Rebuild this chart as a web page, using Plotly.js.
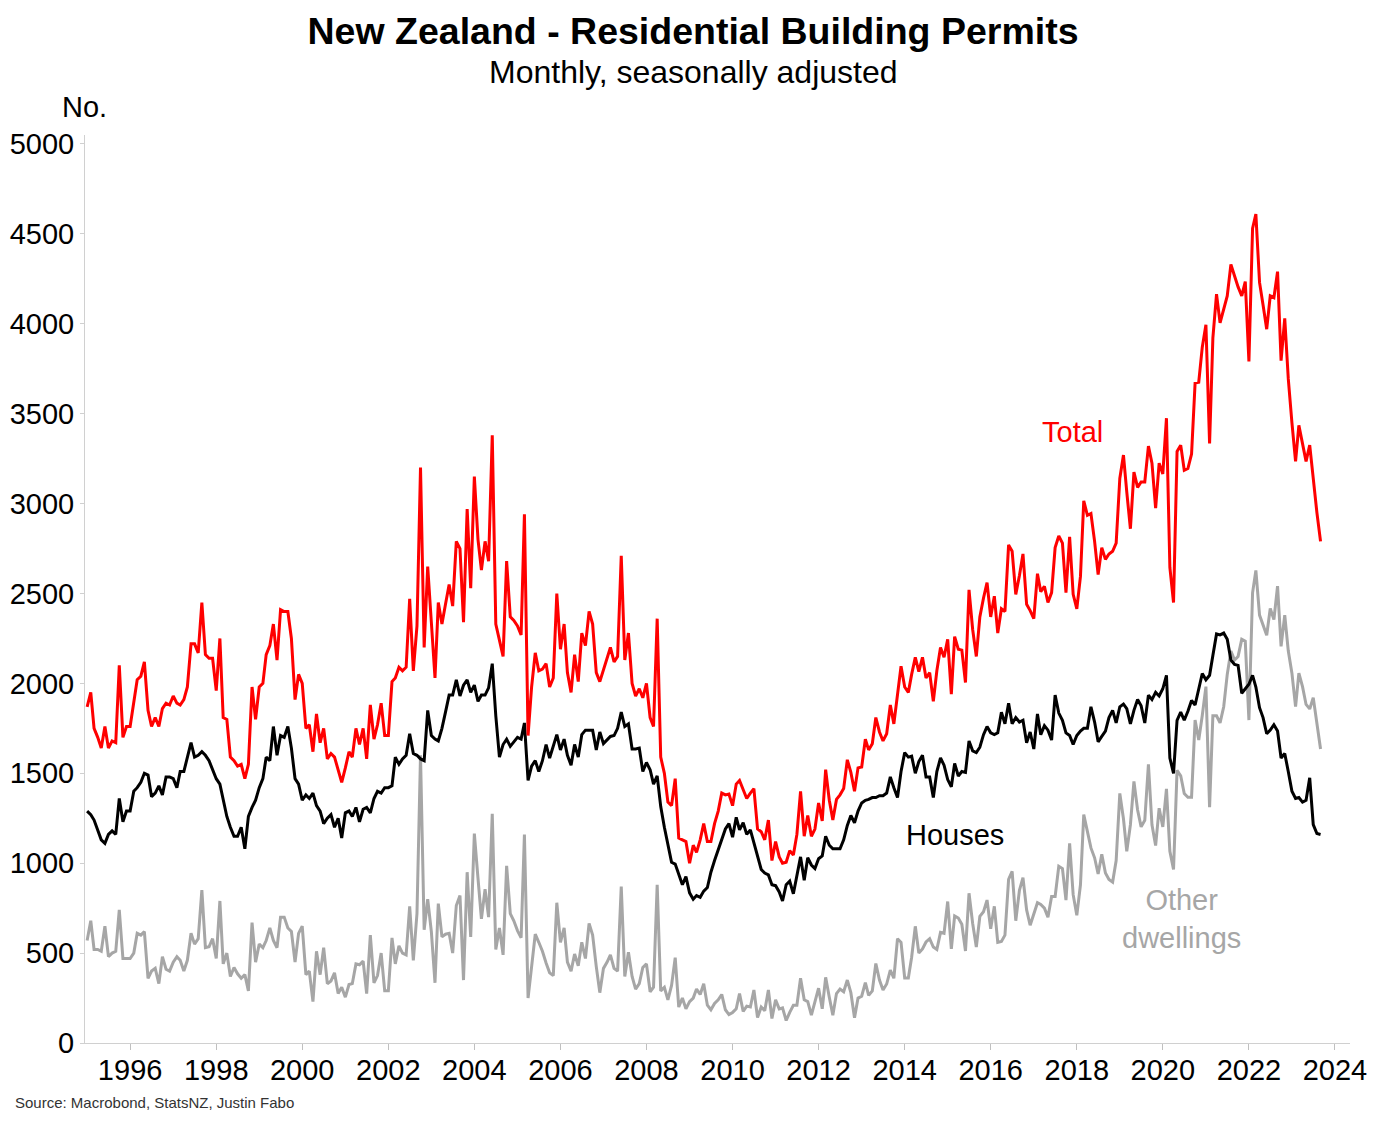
<!DOCTYPE html>
<html>
<head>
<meta charset="utf-8">
<script src="https://cdn.plot.ly/plotly-3.0.1.min.js"></script>
<style>html,body{margin:0;padding:0;background:#fff;}#chart{width:1386px;height:1122px;}</style>
</head>
<body>
<div id="chart"></div>
<script>
// Monthly data, Jan 1995 .. Sep 2023 (one line per year)
const startYear = 1995;
const total = [
1870,1950,1750,1700,1640,1760,1640,1680,1670,2100,1700,1760,
1760,1890,2020,2040,2120,1850,1760,1810,1760,1860,1890,1880,
1930,1890,1880,1910,1980,2220,2220,2170,2450,2160,2140,2140,
1960,2250,1810,1800,1590,1570,1540,1550,1470,1550,1980,1800,
1980,2000,2160,2210,2330,2130,2410,2400,2400,2250,1910,2050,
2000,1750,1770,1620,1830,1670,1750,1580,1610,1590,1520,1450,
1530,1620,1590,1750,1660,1750,1580,1880,1690,1770,1890,1710,
1710,2010,2030,2090,2070,2090,2470,2070,2320,3200,2200,2650,
2340,2030,2450,2330,2440,2550,2430,2790,2750,2340,2970,2530,
3150,2800,2630,2790,2680,3380,2330,2230,2150,2680,2370,2350,
2320,2270,2940,1710,1980,2170,2070,2080,2110,1980,2030,2500,
2190,2330,2060,1950,2160,2010,2280,2210,2400,2330,2060,2010,
2080,2140,2200,2120,2150,2710,2130,2280,2000,1930,1970,1920,
2000,1810,1760,2360,1590,1500,1340,1320,1470,1140,1130,1120,
1000,1100,1060,1130,1220,1120,1120,1220,1290,1390,1380,1385,
1320,1440,1460,1410,1360,1390,1415,1190,1175,1130,1240,1015,
1120,1035,1000,1005,1070,1045,1160,1400,1150,1265,1150,1190,
1335,1235,1520,1350,1240,1355,1380,1415,1575,1505,1400,1530,
1535,1690,1630,1665,1810,1730,1680,1720,1880,1775,1950,2095,
1980,1950,2050,2145,2065,2145,2030,2060,1900,2070,2200,2145,
2245,1940,2260,2190,2185,2005,2520,2300,2150,2370,2475,2560,
2370,2485,2280,2415,2400,2770,2735,2495,2600,2720,2440,2405,
2360,2610,2510,2540,2450,2505,2755,2820,2780,2505,2815,2495,
2415,2595,3015,2935,2945,2790,2605,2755,2690,2720,2735,2780,
3140,3270,3065,2860,3175,3090,3120,3120,3320,3225,2975,3225,
3165,3475,2645,2450,3290,3325,3185,3195,3275,3670,3675,3870,
3995,3335,3920,4165,4005,4080,4155,4330,4265,4205,4155,4235,
3790,4530,4610,4230,4105,3970,4155,4145,4290,3795,4030,3695,
3450,3235,3435,3335,3235,3325,3135,2950,2790
];
const houses = [
1290,1270,1240,1180,1130,1110,1160,1180,1160,1360,1230,1290,
1290,1400,1420,1450,1500,1490,1370,1390,1430,1380,1480,1480,
1470,1420,1510,1510,1590,1670,1590,1600,1620,1600,1570,1520,
1470,1440,1350,1260,1200,1150,1150,1200,1080,1260,1310,1350,
1420,1470,1590,1570,1760,1600,1710,1700,1760,1640,1470,1440,
1350,1380,1360,1390,1320,1290,1220,1250,1270,1200,1250,1140,
1280,1290,1260,1310,1230,1300,1310,1280,1360,1400,1390,1420,
1420,1430,1590,1550,1580,1600,1720,1610,1600,1580,1570,1850,
1710,1690,1680,1750,1840,1935,1935,2020,1930,1990,2020,1950,
1990,1900,1935,1935,1975,2110,1820,1590,1660,1690,1650,1675,
1700,1690,1780,1460,1540,1570,1510,1570,1660,1585,1655,1715,
1630,1690,1600,1545,1660,1590,1715,1740,1740,1740,1630,1730,
1665,1685,1705,1710,1750,1840,1760,1775,1635,1635,1640,1510,
1560,1520,1440,1485,1315,1200,1110,1005,995,935,880,925,
835,800,820,810,845,865,950,1015,1075,1130,1190,1220,
1145,1255,1185,1225,1160,1185,1110,1045,965,945,935,880,
875,840,790,880,900,830,940,1035,905,1030,990,970,
1025,1040,1150,1100,1080,1080,1080,1130,1210,1265,1225,1290,
1335,1350,1355,1365,1365,1375,1375,1390,1480,1420,1365,1510,
1615,1590,1595,1500,1565,1600,1480,1480,1365,1510,1585,1545,
1465,1425,1555,1485,1510,1505,1680,1625,1615,1645,1715,1760,
1725,1715,1725,1840,1775,1890,1775,1810,1785,1795,1670,1730,
1635,1830,1715,1765,1740,1685,1935,1835,1795,1725,1710,1660,
1710,1735,1750,1750,1870,1785,1675,1705,1735,1810,1850,1780,
1870,1885,1860,1775,1850,1910,1875,1780,1935,1910,1950,1930,
1970,2045,1585,1500,1795,1840,1795,1845,1905,1880,1970,2055,
2020,2045,2155,2275,2270,2280,2245,2130,2105,2100,1945,1970,
1995,2045,1980,1865,1810,1720,1740,1770,1735,1585,1610,1510,
1400,1360,1365,1340,1350,1475,1215,1165,1160
];
const other = [
570,680,520,520,510,650,480,500,510,740,470,470,
470,500,610,600,620,360,400,415,330,480,410,400,
450,480,460,400,460,610,550,580,850,530,535,580,
470,790,440,500,370,420,385,360,380,290,670,450,
550,530,570,640,570,530,700,700,640,620,450,610,
650,380,400,230,510,380,530,330,345,390,275,310,
255,325,330,440,435,455,275,600,335,375,500,290,
290,585,440,540,500,490,760,460,720,1600,630,800,
620,335,775,590,605,610,500,765,820,350,950,590,
1165,915,690,855,700,1275,520,640,490,985,720,680,
625,585,1160,250,440,605,560,510,445,390,375,780,
560,640,450,400,495,430,560,470,665,600,425,280,
415,450,490,415,400,870,370,505,370,300,330,420,
440,285,310,880,290,310,240,320,475,200,250,190,
230,250,300,270,330,210,185,220,240,270,185,158,
170,190,275,175,205,200,295,142,200,180,295,136,
240,190,195,125,170,210,210,360,240,230,155,225,
305,190,365,255,155,275,300,285,350,280,140,250,
260,336,265,290,442,350,295,328,405,360,580,560,
362,362,477,649,500,523,562,580,534,520,615,610,
787,523,707,695,660,512,833,665,534,705,730,795,
635,760,560,565,600,910,955,680,850,920,740,655,
715,780,770,750,700,815,815,983,970,795,1110,825,
710,880,1270,1170,1085,1030,940,1050,945,909,895,1015,
1388,1247,1066,1214,1455,1296,1202,1239,1550,1214,1098,1306,
1202,1413,1066,965,1516,1486,1387,1367,1367,1796,1685,1821,
1982,1312,1820,1820,1780,1870,2050,2180,2130,2150,2245,2235,
1796,2504,2628,2380,2330,2268,2417,2355,2541,2206,2380,2181,
2057,1871,2057,1982,1883,1858,1921,1772,1635
];
const tickYears = [1996,1998,2000,2002,2004,2006,2008,2010,2012,2014,2016,2018,2020,2022,2024];
const yTicks = [0,500,1000,1500,2000,2500,3000,3500,4000,4500,5000];

// month dates
const dates = total.map((_, i) => {
  const y = startYear + Math.floor(i / 12);
  const m = (i % 12) + 1;
  return y + '-' + (m < 10 ? '0' + m : m) + '-01';
});

const FONT = 'Liberation Sans, Arial, Helvetica, sans-serif';
const mk = (vals, color) => ({
  x: dates, y: vals, type: 'scatter', mode: 'lines',
  line: {color: color, width: 3}, hoverinfo: 'skip'
});

const data = [mk(other, '#a6a6a6'), mk(houses, '#000000'), mk(total, '#ff0000')];

const layout = {
  width: 1386, height: 1122,
  paper_bgcolor: '#ffffff', plot_bgcolor: '#ffffff',
  margin: {l: 85, r: 36, t: 135, b: 79},
  showlegend: false,
  font: {family: FONT, color: '#000000', size: 29},
  title: {
    text: '<b>New Zealand - Residential Building Permits</b>',
    font: {family: FONT, size: 37.5, color: '#000000'},
    x: 0.5, xref: 'container', xanchor: 'center',
    y: 1 - 31/1122, yref: 'container', yanchor: 'middle'
  },
  xaxis: {
    type: 'date',
    range: ['1994-12-14', '2024-05-08'],
    tickvals: tickYears.map(y => y + '-01-01'),
    ticktext: tickYears.map(String),
    showgrid: false, zeroline: false,
    showline: true, linecolor: '#d0d0d0', linewidth: 1,
    ticks: 'outside', ticklen: 6, tickcolor: '#c0c0c0', tickwidth: 1,
    ticklabelstandoff: -5,
    tickfont: {family: FONT, size: 29, color: '#000000'}
  },
  yaxis: {
    range: [0, 5050],
    tickvals: yTicks,
    showgrid: false, zeroline: false,
    showline: true, linecolor: '#d0d0d0', linewidth: 1,
    ticks: 'outside', ticklen: 4, tickcolor: '#d0d0d0', tickwidth: 1,
    tickfont: {family: FONT, size: 29, color: '#000000'}
  },
  annotations: [
    {text: 'Monthly, seasonally adjusted', xref: 'paper', yref: 'paper',
     x: (693-85)/1265, y: (1043-72)/908, xanchor: 'center', yanchor: 'middle',
     showarrow: false, font: {family: FONT, size: 32, color: '#000000'}},
    {text: 'No.', xref: 'paper', yref: 'paper',
     x: (60-85)/1265, y: (1043-107)/908, xanchor: 'left', yanchor: 'middle',
     showarrow: false, font: {family: FONT, size: 29, color: '#000000'}},
    {text: 'Total', xref: 'x', yref: 'y', x: '2017-11-25', y: 3398,
     xanchor: 'center', yanchor: 'middle', showarrow: false,
     font: {family: FONT, size: 29, color: '#ff0000'}},
    {text: 'Houses', xref: 'x', yref: 'y', x: '2015-03-01', y: 1157,
     xanchor: 'center', yanchor: 'middle', showarrow: false,
     font: {family: FONT, size: 29, color: '#000000'}},
    {text: 'Other<br>dwellings', xref: 'x', yref: 'y', x: '2020-06-10', y: 690,
     xanchor: 'center', yanchor: 'middle', showarrow: false,
     font: {family: FONT, size: 29, color: '#a6a6a6'}},
    {text: 'Source: Macrobond, StatsNZ, Justin Fabo', xref: 'paper', yref: 'paper',
     x: (13-85)/1265, y: (1043-1102)/908, xanchor: 'left', yanchor: 'middle',
     showarrow: false, font: {family: FONT, size: 15, color: '#333333'}}
  ]
};

Plotly.newPlot('chart', data, layout, {displayModeBar: false, staticPlot: true});
</script>
</body>
</html>
